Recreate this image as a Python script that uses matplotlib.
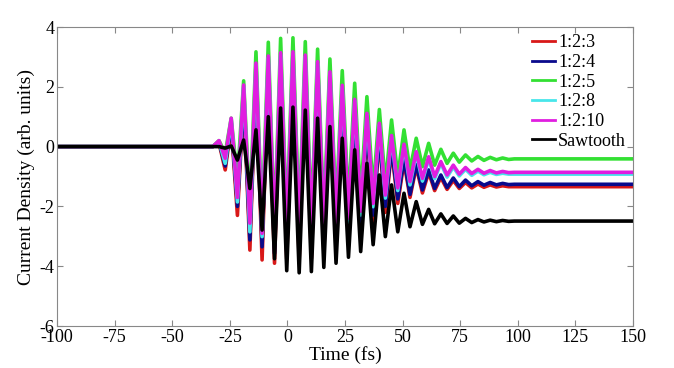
import matplotlib
matplotlib.use("Agg")
import matplotlib.pyplot as plt

plt.rcParams['font.family'] = ['Liberation Serif', 'DejaVu Serif']
plt.rcParams['axes.unicode_minus'] = False

# times of the maxima and minima of the oscillation (fs)
peak_t = [-29.7, -24.4, -19.0, -13.65, -8.3, -2.95, 2.4, 7.75, 13.1, 18.45, 23.8, 29.2,
          34.5, 39.9, 45.2, 50.6, 55.9, 61.3, 66.6, 72.0, 77.3, 82.7, 88.0, 93.4]
trough_t = [-27.0, -21.7, -16.3, -11.0, -5.6, -0.3, 5.1, 10.4, 15.8, 21.1, 26.5, 31.8,
            37.2, 42.5, 47.9, 53.2, 58.6, 63.9, 69.3, 74.6, 80.0, 85.3, 90.7, 96.0]
t_start, t_on, t_off, t_end = -100, -32.4, 98.5, 150

labels = ['1:2:3', '1:2:4', '1:2:5', '1:2:8', '1:2:10', 'Sawtooth']

# peak values per series
peaks_123 = [0.12, 0.7, 1.62, 2.32, 2.57, 2.67, 2.7, 2.6, 2.37, 2.02, 1.57, 1.1,
             0.64, 0.3, -0.1, -0.5, -0.68, -0.86, -1.03, -1.13, -1.2, -1.25, -1.28, -1.31]
peaks_124 = [0.15, 0.8, 1.7, 2.4, 2.65, 2.75, 2.78, 2.67, 2.45, 2.1, 1.65, 1.18,
             0.72, 0.38, -0.02, -0.42, -0.6, -0.78, -0.95, -1.05, -1.12, -1.17, -1.2, -1.23]
peaks_125 = [0.2, 0.95, 2.2, 3.17, 3.49, 3.62, 3.64, 3.51, 3.26, 2.93, 2.54, 2.12,
             1.67, 1.24, 0.89, 0.56, 0.28, 0.11, -0.09, -0.22, -0.28, -0.33, -0.36, -0.38]
peaks_128 = [0.17, 0.9, 2.0, 2.72, 2.96, 3.07, 3.1, 3.0, 2.78, 2.44, 1.99, 1.52,
             1.05, 0.72, 0.31, 0.02, -0.23, -0.4, -0.56, -0.68, -0.76, -0.82, -0.86, -0.89]
peaks_1210 = [0.2, 0.95, 2.06, 2.79, 3.03, 3.14, 3.17, 3.06, 2.84, 2.5, 2.05, 1.58,
              1.11, 0.78, 0.37, 0.08, -0.17, -0.34, -0.5, -0.62, -0.7, -0.76, -0.8, -0.83]
peaks_saw = [0.0, 0.02, 0.22, 0.56, 1.0, 1.29, 1.32, 1.22, 0.95, 0.67, 0.28, -0.11,
             -0.56, -0.95, -1.28, -1.56, -1.84, -2.1, -2.25, -2.32, -2.4, -2.44, -2.46, -2.47]

# trough values per series
troughs_123 = [-0.78, -2.3, -3.46, -3.79, -3.9, -3.75, -3.79, -3.74, -3.51, -3.29, -3.07, -2.79,
               -2.51, -2.2, -1.9, -1.7, -1.55, -1.47, -1.43, -1.4, -1.38, -1.36, -1.35, -1.34]
troughs_124 = [-0.65, -2.0, -3.12, -3.35, -3.57, -3.5, -3.51, -3.46, -3.29, -3.1, -2.9, -2.62,
               -2.29, -2.0, -1.75, -1.6, -1.45, -1.4, -1.37, -1.34, -1.31, -1.29, -1.28, -1.27]
troughs_125 = [-0.22, -1.12, -2.12, -2.57, -2.73, -2.6, -2.51, -2.51, -2.4, -2.18, -1.95, -1.73,
               -1.5, -1.25, -1.0, -0.78, -0.67, -0.62, -0.56, -0.52, -0.48, -0.46, -0.44, -0.43]
troughs_128 = [-0.56, -1.85, -2.85, -3.01, -3.2, -3.15, -3.12, -3.07, -2.96, -2.79, -2.55, -2.29,
               -2.01, -1.72, -1.47, -1.28, -1.15, -1.07, -1.02, -0.98, -0.96, -0.94, -0.93, -0.92]
troughs_1210 = [-0.39, -1.7, -2.56, -2.9, -3.0, -3.0, -2.96, -2.9, -2.79, -2.64, -2.39, -2.16,
                -1.9, -1.62, -1.38, -1.17, -1.06, -1.0, -0.95, -0.92, -0.9, -0.89, -0.88, -0.87]
troughs_saw = [-0.05, -0.45, -1.4, -2.79, -3.75, -4.15, -4.22, -4.18, -4.04, -3.9, -3.7, -3.51,
               -3.28, -3.01, -2.85, -2.68, -2.6, -2.58, -2.57, -2.56, -2.54, -2.52, -2.51, -2.5]

# level after the pulse
final_vals = [-1.34, -1.26, -0.41, -0.92, -0.86, -2.49]

all_peaks = [peaks_123, peaks_124, peaks_125, peaks_128, peaks_1210, peaks_saw]
all_troughs = [troughs_123, troughs_124, troughs_125, troughs_128, troughs_1210, troughs_saw]
colors = ['#d81818', '#0a0a8c', '#33e033', '#48e6ea', '#e01ee0', 'black']

fig = plt.figure(figsize=(6.74, 3.68), dpi=100)
ax = fig.add_axes([0.0846, 0.1141, 0.8546, 0.8125])

for pk, tr, fin, lab, c in zip(all_peaks, all_troughs, final_vals, labels, colors):
    t = [t_start, t_on]
    y = [0, 0]
    for tp, vp, tt, vt in zip(peak_t, pk, trough_t, tr):
        t += [tp, tt]
        y += [vp, vt]
    t += [t_off, t_end]
    y += [fin, fin]
    ax.plot(t, y, color=c, lw=2.6, label=lab, solid_joinstyle='round')

ax.set_xlim(-100, 150)
ax.set_ylim(-6, 4)
ax.set_xticks(range(-100, 151, 25))
ax.set_yticks(range(-6, 5, 2))
ax.tick_params(direction='in', top=True, right=True, labelsize=13, length=4,
               color='#888888', pad=2)
for s in ax.spines.values():
    s.set_color('#888888')
    s.set_linewidth(0.8)
ax.set_xlabel('Time (fs)', fontsize=14, labelpad=0)
ax.set_ylabel('Current Density (arb. units)', fontsize=14, labelpad=3)

leg = ax.legend(loc='upper right', bbox_to_anchor=(1.0, 1.0), frameon=False, fontsize=13,
                handlelength=1.3, handletextpad=0.15, labelspacing=0.15, borderaxespad=0.3,
                borderpad=0.1)
for h in leg.get_lines():
    h.set_linewidth(2.0)

fig.savefig('out.png', dpi=100)
